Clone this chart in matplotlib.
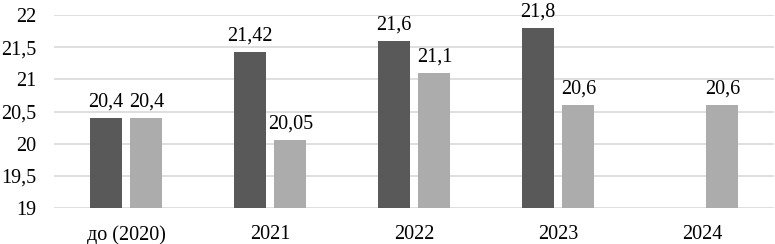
import matplotlib.pyplot as plt
import numpy as np

categories = ["до (2020)", "2021", "2022", "2023", "2024"]
series_dark = [20.4, 21.42, 21.6, 21.8, None]
series_light = [20.4, 20.05, 21.1, 20.6, 20.6]
yticks = [19, 19.5, 20, 20.5, 21, 21.5, 22]

plt.rcParams['font.family'] = ['Liberation Serif', 'DejaVu Serif']

fig = plt.figure(figsize=(7.75, 2.44), dpi=100)
ax = fig.add_axes([54 / 775, 36 / 244, 720 / 775, 193 / 244])

x = np.arange(len(categories))
w = 0.222
off = 0.142


def fmt(v):
    s = ("%g" % v).replace(".", ",")
    return s


for i, v in enumerate(series_dark):
    if v is None:
        continue
    ax.bar(x[i] - off, v - 19, width=w, bottom=19, color="#595959", zorder=3)
    ax.text(x[i] - off, v + 0.1, fmt(v), ha="center", va="bottom", fontsize=14.5)

for i, v in enumerate(series_light):
    ax.bar(x[i] + off, v - 19, width=w, bottom=19, color="#acacac", zorder=3)
    ax.text(x[i] + off, v + 0.1, fmt(v), ha="center", va="bottom", fontsize=14.5)

ax.set_xlim(-0.5, len(categories) - 0.5)
ax.set_ylim(19, 22)
ax.set_yticks(yticks)
ax.set_yticklabels([fmt(t) for t in yticks], fontsize=14.5)
ax.set_xticks(x)
ax.set_xticklabels(categories, fontsize=14.5)
ax.tick_params(length=0)
ax.tick_params(axis="x", pad=12.5)
ax.tick_params(axis="y", pad=13)
ax.grid(axis="y", color="#d9d9d9", linewidth=1.2, zorder=0)
for s in ax.spines.values():
    s.set_visible(False)

fig.savefig("out.png", dpi=100)
